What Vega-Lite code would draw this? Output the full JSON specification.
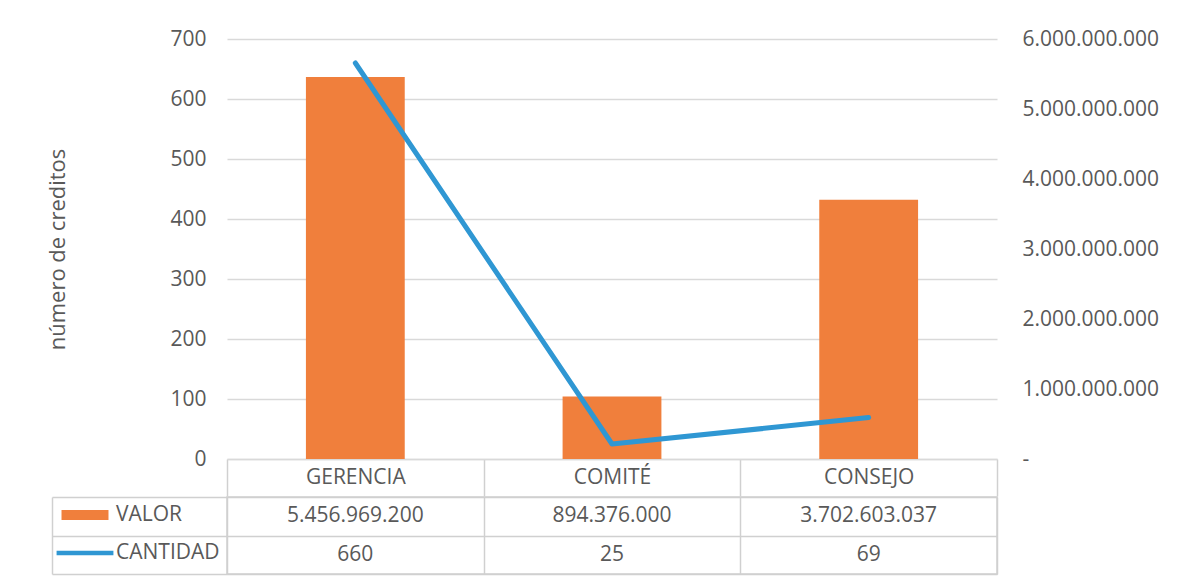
{
  "$schema": "https://vega.github.io/schema/vega-lite/v6.json",
  "padding": {"left": 46, "top": 28, "right": 5, "bottom": 5},
  "spacing": -2,
  "config": {
    "font": "Open Sans",
    "locale": {"number": {"decimal": ",", "thousands": ".", "grouping": [3], "currency": ["$", ""]}},
    "view": {"stroke": null},
    "axis": {"labelColor": "#595959", "labelFontSize": 21, "labelFont": "Open Sans", "titleColor": "#595959", "titleFontWeight": "normal", "titleFont": "Open Sans"}
  },
  "datasets": {
    "d": [
      {"cat": "GERENCIA", "VALOR": 5456969200, "CANTIDAD": 660},
      {"cat": "COMITÉ", "VALOR": 894376000, "CANTIDAD": 25},
      {"cat": "CONSEJO", "VALOR": 3702603037, "CANTIDAD": 69}
    ]
  },
  "resolve": {"scale": {"color": "shared"}, "legend": {"color": "shared"}},
  "vconcat": [
    {
      "width": 770,
      "height": 420,
      "data": {"name": "d"},
      "encoding": {
        "x": {
          "field": "cat", "type": "nominal", "sort": null,
          "scale": {"paddingInner": 0, "paddingOuter": 0},
          "axis": {
            "orient": "bottom", "title": null, "domain": true, "domainColor": "#d9d9d9", "domainWidth": 1.5,
            "ticks": true, "tickBand": "extent", "tickSize": 37, "tickColor": "#d0d0d0", "tickWidth": 1.5,
            "labelPadding": -18.5, "labelBaseline": "middle", "labelAngle": 0, "grid": false
          }
        }
      },
      "layer": [
        {
          "mark": {"type": "bar", "width": {"band": 0.385}},
          "encoding": {
            "y": {
              "field": "VALOR", "type": "quantitative",
              "scale": {"domain": [0, 6000000000], "nice": false},
              "axis": {
                "orient": "right", "values": [0, 1000000000, 2000000000, 3000000000, 4000000000, 5000000000, 6000000000],
                "format": ",.0f", "labelExpr": "datum.value === 0 ? '-' : datum.label",
                "labelPadding": 25, "grid": false, "domain": false, "ticks": false, "title": null
              }
            },
            "color": {
              "datum": "VALOR",
              "scale": {"domain": ["VALOR", "CANTIDAD"], "range": ["#F07F3C", "#2F97D3"]},
              "legend": {
                "orient": "none", "legendX": -171, "legendY": 457, "title": null,
                "clipHeight": 38, "rowPadding": 0, "symbolSize": 3364, "padding": 0,
                "labelFontSize": 21, "labelColor": "#595959", "labelFont": "Open Sans", "labelOffset": 2,
                "symbolStrokeWidth": 0,
                "encode": {
                  "symbols": {
                    "update": {
                      "shape": {"signal": "datum.value === 'VALOR' ? 'M-0.81,-0.172H0.81V0.172H-0.81Z' : 'M-0.98,-0.08H0.98V0.08H-0.98Z'"},
                      "fill": {"signal": "datum.value === 'VALOR' ? '#F07F3C' : '#2F97D3'"},
                      "opacity": {"value": 1},
                      "strokeWidth": {"value": 0}
                    }
                  }
                }
              }
            }
          }
        },
        {
          "mark": {"type": "line", "strokeWidth": 5, "strokeCap": "round", "strokeJoin": "round"},
          "encoding": {
            "y": {
              "field": "CANTIDAD", "type": "quantitative",
              "scale": {"domain": [0, 700], "nice": false},
              "axis": {
                "orient": "left", "values": [0, 100, 200, 300, 400, 500, 600, 700],
                "grid": true, "gridColor": "#d9d9d9", "gridWidth": 1.5,
                "domain": false, "ticks": false, "labelPadding": 21,
                "title": "número de creditos", "titleFontSize": 22, "titlePadding": 100
              }
            },
            "color": {"datum": "CANTIDAD"}
          }
        }
      ],
      "resolve": {"scale": {"y": "independent"}}
    },
    {
      "width": 770,
      "height": 77,
      "data": {"name": "d"},
      "transform": [{"fold": ["VALOR", "CANTIDAD"], "as": ["row", "val"]}],
      "view": {"stroke": "#d0d0d0", "strokeWidth": 1.5},
      "mark": {"type": "text", "fontSize": 21, "color": "#595959", "font": "Open Sans"},
      "encoding": {
        "x": {
          "field": "cat", "type": "nominal", "sort": null,
          "scale": {"paddingInner": 0, "paddingOuter": 0},
          "axis": {"orient": "bottom", "domain": false, "ticks": false, "labels": false, "title": null,
                   "grid": true, "tickBand": "extent", "gridColor": "#d0d0d0", "gridWidth": 1.5}
        },
        "y": {
          "field": "row", "type": "nominal", "sort": ["VALOR", "CANTIDAD"],
          "scale": {"paddingInner": 0, "paddingOuter": 0},
          "axis": {"orient": "left", "offset": 175, "domain": true, "domainColor": "#d0d0d0", "domainWidth": 1.5,
                   "ticks": true, "tickBand": "extent", "tickSize": -175, "tickColor": "#d0d0d0", "tickWidth": 1.5,
                   "labels": false, "title": null, "grid": true, "gridColor": "#d0d0d0", "gridWidth": 1.5}
        },
        "text": {"field": "val", "type": "quantitative", "format": ",.0f"}
      }
    }
  ]
}
